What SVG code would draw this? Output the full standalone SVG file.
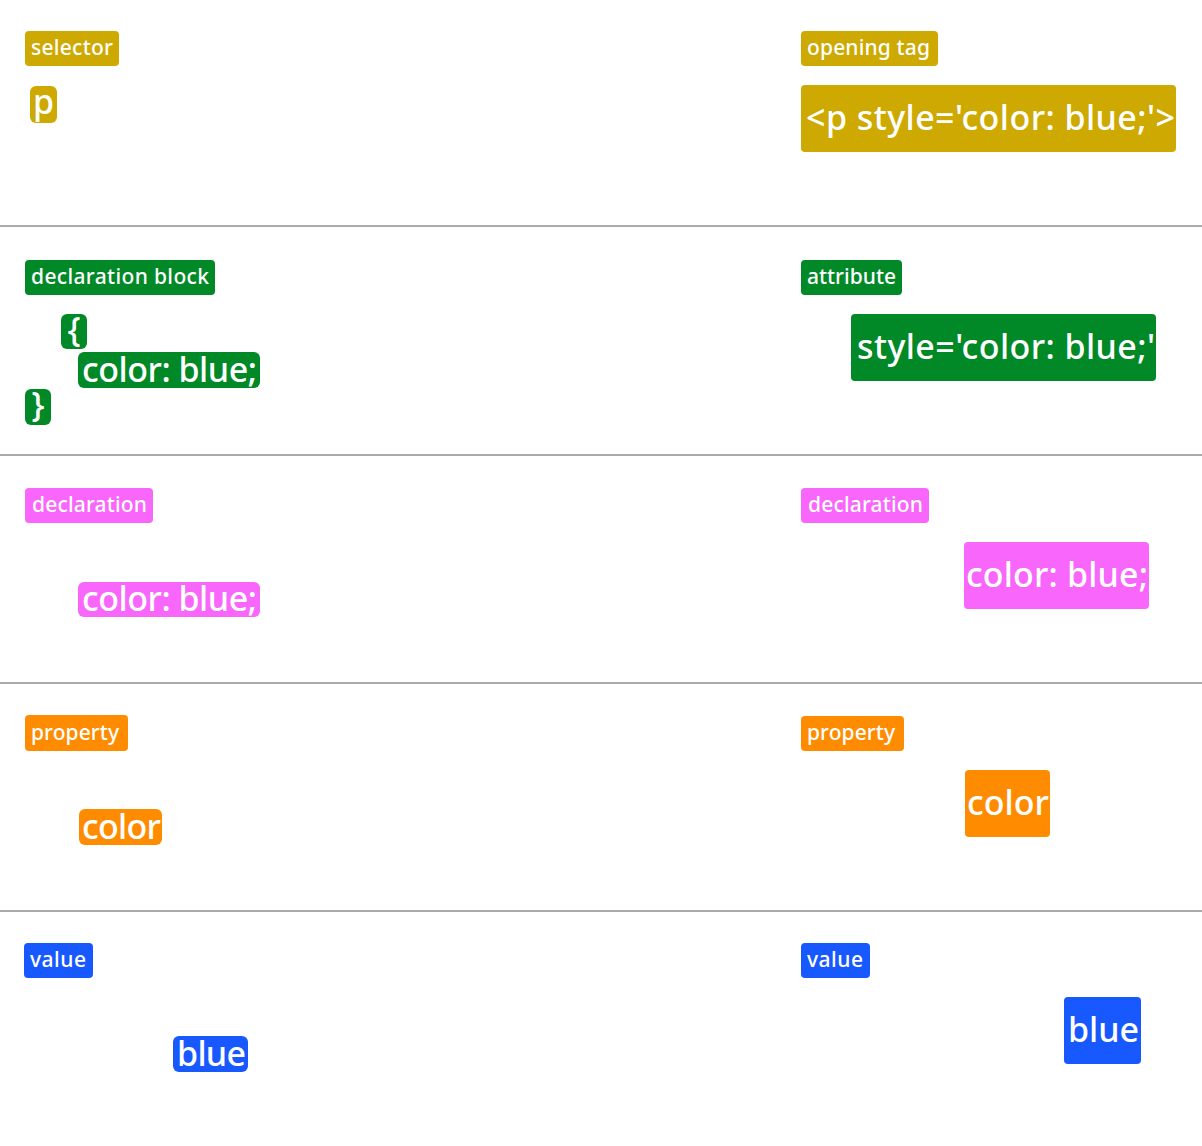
<svg xmlns="http://www.w3.org/2000/svg" width="1202" height="1146" viewBox="0 0 1202 1146">
<style>
text{font-family:"Noto Sans","Open Sans","DejaVu Sans",sans-serif;fill:#fff;font-weight:500;}
.lbl{font-size:21px;}
.big{font-size:34px;}
.sep{stroke:#aaaaaa;stroke-width:2;}
.gold{fill:#CDA902;}
.green{fill:#008926;}
.pink{fill:#F866FC;}
.orange{fill:#FF8C00;}
.blue{fill:#1858FF;}
</style>
<rect width="1202" height="1146" fill="#fff"/>
<g id="separators">
<line class="sep" x1="0" y1="226" x2="1202" y2="226"/>
<line class="sep" x1="0" y1="455" x2="1202" y2="455"/>
<line class="sep" x1="0" y1="683" x2="1202" y2="683"/>
<line class="sep" x1="0" y1="911" x2="1202" y2="911"/>
</g>
<g id="connectors"/>
<g id="lbl-selector"><rect class="gold" x="25" y="31" width="94" height="35" rx="4"/><text class="lbl" x="72" y="55" text-anchor="middle" textLength="82">selector</text></g>
<g id="node-p"><rect class="gold" x="30" y="86" width="27" height="37" rx="6"/><text class="big" x="43.5" y="114" text-anchor="middle">p</text></g>
<g id="lbl-opening-tag"><rect class="gold" x="801" y="31" width="137" height="35" rx="4"/><text class="lbl" x="868.5" y="55" text-anchor="middle" textLength="123">opening tag</text></g>
<g id="node-opening-tag"><rect class="gold" x="801" y="85" width="375" height="67" rx="4"/><text class="big" x="990.5" y="130" text-anchor="middle" textLength="369">&lt;p style='color: blue;'&gt;</text></g>
<g id="lbl-declaration-block"><rect class="green" x="25" y="260" width="190" height="35" rx="4"/><text class="lbl" x="120" y="284" text-anchor="middle" textLength="178">declaration block</text></g>
<g id="node-open-brace"><rect class="green" x="61" y="314" width="26" height="35" rx="6"/><text class="big" x="74" y="342" text-anchor="middle">{</text></g>
<g id="node-decl-block-body"><rect class="green" x="78" y="352" width="182" height="36" rx="6"/><text class="big" x="169.5" y="382" text-anchor="middle" textLength="175">color: blue;</text></g>
<g id="node-close-brace"><rect class="green" x="25" y="389" width="26" height="36" rx="6"/><text class="big" x="38" y="417" text-anchor="middle">}</text></g>
<g id="lbl-attribute"><rect class="green" x="801" y="260" width="101" height="35" rx="4"/><text class="lbl" x="851.5" y="284" text-anchor="middle" textLength="89">attribute</text></g>
<g id="node-attribute"><rect class="green" x="851" y="314" width="305" height="67" rx="4"/><text class="big" x="1006" y="359" text-anchor="middle" textLength="298">style='color: blue;'</text></g>
<g id="lbl-declaration-left"><rect class="pink" x="25" y="488" width="128" height="35" rx="4"/><text class="lbl" x="89.5" y="512" text-anchor="middle" textLength="115">declaration</text></g>
<g id="node-declaration-left"><rect class="pink" x="78" y="582" width="182" height="35" rx="6"/><text class="big" x="169.5" y="611" text-anchor="middle" textLength="175">color: blue;</text></g>
<g id="lbl-declaration-right"><rect class="pink" x="801" y="488" width="128" height="35" rx="4"/><text class="lbl" x="865.5" y="512" text-anchor="middle" textLength="115">declaration</text></g>
<g id="node-declaration-right"><rect class="pink" x="964" y="542" width="185" height="67" rx="4"/><text class="big" x="1057" y="587" text-anchor="middle" textLength="182">color: blue;</text></g>
<g id="lbl-property-left"><rect class="orange" x="25" y="715" width="103" height="36" rx="4"/><text class="lbl" x="75" y="740" text-anchor="middle" textLength="88">property</text></g>
<g id="node-property-left"><rect class="orange" x="79" y="809" width="83" height="36" rx="6"/><text class="big" x="121.5" y="839" text-anchor="middle" textLength="79">color</text></g>
<g id="lbl-property-right"><rect class="orange" x="801" y="716" width="103" height="35" rx="4"/><text class="lbl" x="851" y="740" text-anchor="middle" textLength="88">property</text></g>
<g id="node-property-right"><rect class="orange" x="965" y="770" width="85" height="67" rx="4"/><text class="big" x="1008" y="815" text-anchor="middle" textLength="82">color</text></g>
<g id="lbl-value-left"><rect class="blue" x="24" y="943" width="69" height="35" rx="4"/><text class="lbl" x="58" y="967" text-anchor="middle" textLength="56">value</text></g>
<g id="node-value-left"><rect class="blue" x="173" y="1036" width="75" height="36" rx="6"/><text class="big" x="211.5" y="1066" text-anchor="middle" textLength="69">blue</text></g>
<g id="lbl-value-right"><rect class="blue" x="801" y="943" width="69" height="35" rx="4"/><text class="lbl" x="835" y="967" text-anchor="middle" textLength="56">value</text></g>
<g id="node-value-right"><rect class="blue" x="1064" y="997" width="77" height="67" rx="4"/><text class="big" x="1103.5" y="1042" text-anchor="middle" textLength="71">blue</text></g>
</svg>
